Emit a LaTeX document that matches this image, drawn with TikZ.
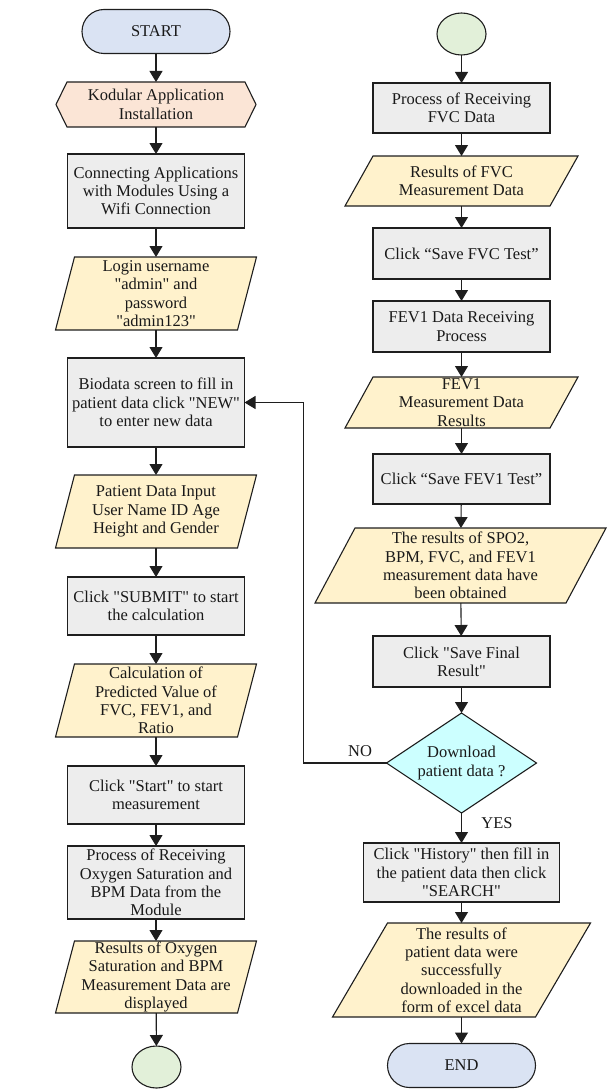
\documentclass[tikz,border=0pt]{standalone}
\usepackage{fontspec}
\setmainfont{Liberation Serif}[Ligatures=TeXOff]
\usetikzlibrary{shapes.geometric,arrows.meta,backgrounds}
\definecolor{termblue}{HTML}{DAE3F3}
\definecolor{hexpeach}{HTML}{FBE5D6}
\definecolor{procgray}{HTML}{EDEDED}
\definecolor{ioyellow}{HTML}{FFF2CC}
\definecolor{conngreen}{HTML}{E2F0D9}
\definecolor{decidecyan}{HTML}{CCFFFF}
\definecolor{edgegray}{HTML}{1E1E1E}
\begin{document}
\begin{tikzpicture}[x=1pt,y=-1pt]
	\tikzstyle{every node}=[font=\fontsize{16.5}{18.3}\selectfont,align=center,inner sep=0pt,outer sep=0pt,text=black!90]
	\tikzstyle{term}=[rectangle,rounded corners=22pt,draw=edgegray,line width=1.1pt,fill=termblue,minimum width=148pt,minimum height=44pt]
	\tikzstyle{proc}=[rectangle,draw=edgegray,line width=1.1pt,fill=procgray,minimum width=177pt]
	\tikzstyle{io}=[rectangle,minimum width=182pt]
	\tikzstyle{hexa}=[rectangle,minimum width=178pt]
	\tikzstyle{link}=[ellipse,draw=edgegray,line width=1.1pt,fill=conngreen,minimum width=49pt,minimum height=42pt]
	\tikzstyle{decide}=[diamond,aspect=1.5,draw=edgegray,line width=1.1pt,fill=decidecyan,minimum width=150pt,minimum height=100pt]
	\tikzstyle{shapefill}=[draw=edgegray,line width=1.1pt]
	\tikzstyle{arr}=[-{Triangle[length=11pt,width=13pt]},draw=edgegray,line width=1.1pt]
	\useasboundingbox (0,0) rectangle (606,1089);

	\node[term] (start) at (156,31.5) {START};
	\node[hexa,minimum height=45pt] (install) at (156,104.5) {Kodular Application\\Installation};
	\node[proc,minimum height=74pt] (wifi) at (156,191) {Connecting Applications\\with Modules Using a\\Wifi Connection};
	\node[io,minimum height=73pt] (login) at (156,293.5) {Login username\\"admin" and\\password\\"admin123"};
	\node[proc,minimum height=89pt] (bio) at (156,402.5) {Biodata screen to fill in\\patient data click "NEW"\\to enter new data};
	\node[io,minimum height=73pt] (pdata) at (156,511.5) {Patient Data Input\\User Name ID Age\\Height and Gender};
	\node[proc,minimum height=58pt] (submit) at (156,606) {Click "SUBMIT" to start\\the calculation};
	\node[io,minimum height=73pt] (calc) at (156,700.5) {Calculation of\\Predicted Value of\\FVC, FEV1, and\\Ratio};
	\node[proc,minimum height=58pt] (measure) at (156,795) {Click "Start" to start\\measurement};
	\node[proc,minimum height=73pt] (oxy) at (156,882.5) {Process of Receiving\\Oxygen Saturation and\\BPM Data from the\\Module};
	\node[io,minimum height=72pt] (oxyres) at (156,977) {Results of Oxygen\\Saturation and BPM\\Measurement Data are\\displayed};
	\node[link] (linkA) at (156.5,1067) {};

	\node[link] (linkB) at (461.5,34) {};
	\node[proc,minimum height=50pt] (fvc) at (461.5,108) {Process of Receiving\\FVC Data};
	\node[io,minimum width=205pt,minimum height=50pt] (fvcres) at (461.5,181) {Results of FVC\\Measurement Data};
	\node[proc,minimum height=51pt] (savefvc) at (461.5,253.5) {Click “Save FVC Test”};
	\node[proc,minimum height=51pt] (fev) at (461.5,326.5) {FEV1 Data Receiving\\Process};
	\node[io,minimum width=205pt,minimum height=51pt] (fevres) at (461.5,402.5) {FEV1\\Measurement Data\\Results};
	\node[proc,minimum height=50pt] (savefev) at (461.5,479) {Click “Save FEV1 Test”};
	\node[io,minimum width=251pt,minimum height=75pt] (allres) at (460.5,565.5) {The results of SPO2,\\BPM, FVC, and FEV1\\measurement data have\\been obtained};
	\node[proc,minimum height=51pt] (final) at (461.5,661.5) {Click "Save Final\\Result"};
	\node[decide] (dl) at (461.5,763) {Download\\patient data ?};
	\node[proc,minimum width=196pt,minimum height=59pt] (hist) at (461.5,872.5) {Click "History" then fill in\\the patient data then click\\"SEARCH"};
	\node[io,minimum width=203pt,minimum height=94pt] (dlres) at (461.5,970) {The results of\\patient data were\\successfully\\downloaded in the\\form of excel data};
	\node[term] (stop) at (461.5,1065.5) {END};

	\node (no) at (360,751) {NO};
	\node (yes) at (497,823) {YES};

	\begin{scope}[on background layer]
		\draw[shapefill,fill=hexpeach] ([xshift=-11pt]install.west) -- (install.north west) -- (install.north east) -- ([xshift=11pt]install.east) -- (install.south east) -- (install.south west) -- cycle;
		\foreach \n/\s in {login/9.5,pdata/9.5,calc/9.5,oxyres/9.5,fvcres/14,fevres/14,allres/20,dlres/27.5}
			\draw[shapefill,fill=ioyellow] ([xshift=\s]\n.north west) -- ([xshift=\s]\n.north east) -- ([xshift=-\s]\n.south east) -- ([xshift=-\s]\n.south west) -- cycle;
	\end{scope}

	\foreach \a/\b in {start/install,install/wifi,wifi/login,login/bio,bio/pdata,pdata/submit,submit/calc,calc/measure,measure/oxy,oxy/oxyres,oxyres/linkA,
		linkB/fvc,fvc/fvcres,fvcres/savefvc,savefvc/fev,fev/fevres,fevres/savefev,savefev/allres,allres/final,final/dl,dl/hist,hist/dlres,dlres/stop}
		\draw[arr] (\a) -- (\b);
	\draw[arr] (dl.west) -- ++(-83,0) |- (bio.east);
\end{tikzpicture}
\end{document}
